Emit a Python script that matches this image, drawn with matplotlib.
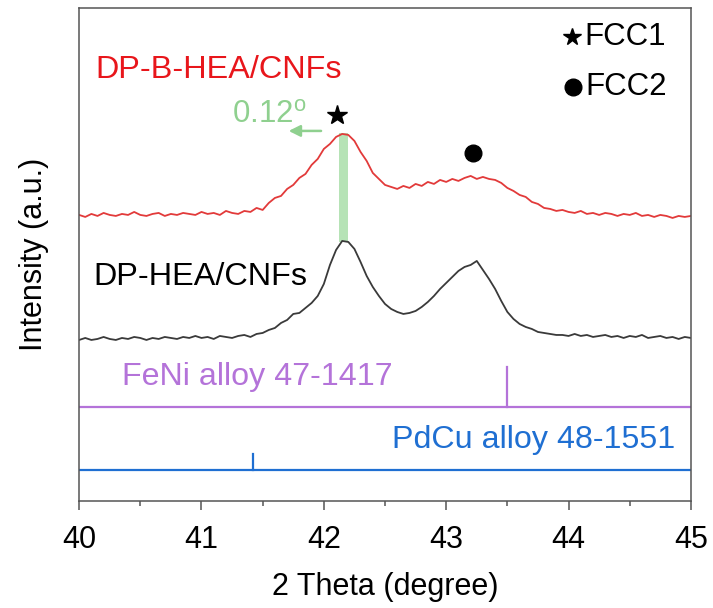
import numpy as np
import matplotlib.pyplot as plt
from matplotlib.ticker import MultipleLocator

plt.rcParams['font.family'] = ['Liberation Sans', 'DejaVu Sans']
plt.rcParams['mathtext.fontset'] = 'custom'
plt.rcParams['mathtext.rm'] = 'Liberation Sans'

# 2theta grid, 0.05 deg step
two_theta = np.round(np.arange(40.0, 45.0001, 0.05), 2)

# DP-B-HEA/CNFs (offset trace, a.u.)
dp_b_hea = [
    286, 284, 287, 285, 288, 286, 285, 287, 286, 289, 286, 285, 287, 288, 285,
    287, 286, 288, 287, 286, 289, 287, 288, 286, 290, 288, 287, 290, 289,
    293, 291, 298, 303, 305, 312, 316, 323, 327, 336,
    342, 352, 357, 364, 367, 366, 360, 349, 340, 328,
    322, 316, 314, 312, 315, 313, 317, 315, 319, 317,
    321, 319, 322, 320, 323, 325, 322, 324, 322, 321,
    318, 313, 310, 306, 304, 299, 297, 293, 292, 290, 291,
    289, 288, 290, 287, 288, 286, 288, 287, 285, 287, 286, 288, 285, 286, 284,
    286, 285, 283, 285, 284, 285,
]

# DP-HEA/CNFs (offset trace, a.u.)
dp_hea = [
    161, 163, 161, 162, 164, 162, 161, 163, 162, 164, 163, 161, 163, 162, 164,
    163, 162, 164, 163, 165, 163, 164, 162, 165, 164, 163, 165, 166, 164,
    167, 168, 171, 173, 178, 181, 187, 188, 193, 198,
    205, 217, 236, 251, 260, 259, 252, 239, 225, 214,
    205, 197, 192, 189, 187, 188, 190, 194, 199, 205,
    212, 218, 224, 230, 234, 236, 240, 231, 222, 212,
    200, 189, 182, 177, 174, 172, 169, 168, 167, 166, 166,
    165, 167, 165, 166, 164, 165, 166, 164, 165, 163, 165, 164, 166, 163, 164,
    165, 163, 164, 162, 164, 163,
]

# standard cards: line position, peak position, stick top
feni_card = (94, 43.5, 134)
pdcu_card = (31, 41.42, 47)

shift_band = (42.12, 42.20, 259, 368)

red = '#e23a3a'
grey = '#555555'
purple = '#b473d9'
blue = '#1f6fd2'
green = '#a9dfa9'

fig = plt.figure(figsize=(7.13, 6.08), dpi=100)
ax = fig.add_axes([0.111, 0.176, 0.858, 0.811])

ax.plot(two_theta, dp_b_hea, color=red, lw=1.3)
ax.plot(two_theta, dp_hea, color='#3a3a3a', lw=1.3)

# card sticks
y0, xp, yp = feni_card
ax.axhline(y0, color=purple, lw=1.6)
ax.plot([xp, xp], [y0, yp], color=purple, lw=1.6)
y0, xp, yp = pdcu_card
ax.axhline(y0, color=blue, lw=1.6)
ax.plot([xp, xp], [y0, yp], color=blue, lw=1.6)

# peak shift marker
ax.fill_between([shift_band[0], shift_band[1]], shift_band[2], shift_band[3],
                color=green, alpha=0.85, lw=0)
ax.annotate('', xy=(41.69, 370), xytext=(42.0, 370),
            arrowprops=dict(arrowstyle='-|>', color='#8fd08f', lw=1.8,
                            mutation_scale=17))
ax.text(41.25, 386, r'0.12$^{\rm o}$', color='#8fd08f', fontsize=22.5,
        va='center', ha='left')

# phase markers
ax.plot(42.11, 386, marker='*', color='black', ms=15, ls='none')
ax.plot(43.22, 348, marker='o', color='black', ms=12, ls='none')
ax.plot(44.03, 464, marker='*', color='black', ms=13, ls='none')
ax.plot(44.04, 414, marker='o', color='black', ms=12, ls='none')
ax.text(44.13, 464, 'FCC1', fontsize=22.5, va='center', ha='left')
ax.text(44.14, 414, 'FCC2', fontsize=22.5, va='center', ha='left')

ax.text(40.13, 431, 'DP-B-HEA/CNFs', color='#e8161b', fontsize=23.3,
        va='center', ha='left')
ax.text(40.115, 224, 'DP-HEA/CNFs', color='black', fontsize=23.3,
        va='center', ha='left')
ax.text(40.35, 124, 'FeNi alloy 47-1417', color=purple, fontsize=23.2,
        va='center', ha='left')
ax.text(44.87, 61, 'PdCu alloy 48-1551', color=blue, fontsize=23.2,
        va='center', ha='right')

ax.set_xlim(40, 45)
ax.set_ylim(0, 493)
ax.xaxis.set_major_locator(MultipleLocator(1))
ax.xaxis.set_minor_locator(MultipleLocator(0.5))
ax.set_yticks([])
ax.tick_params(axis='x', which='major', direction='out', length=6.5,
               width=1.1, color=grey, labelsize=22, pad=11)
ax.tick_params(axis='x', which='minor', direction='out', length=3.5,
               width=1.1, color=grey)
for s in ax.spines.values():
    s.set_color(grey)
    s.set_linewidth(1.1)

ax.set_xlabel('2 Theta (degree)', fontsize=22, labelpad=12)
ax.set_ylabel('Intensity (a.u.)', fontsize=22, labelpad=22)

fig.savefig('out.png', dpi=100)
